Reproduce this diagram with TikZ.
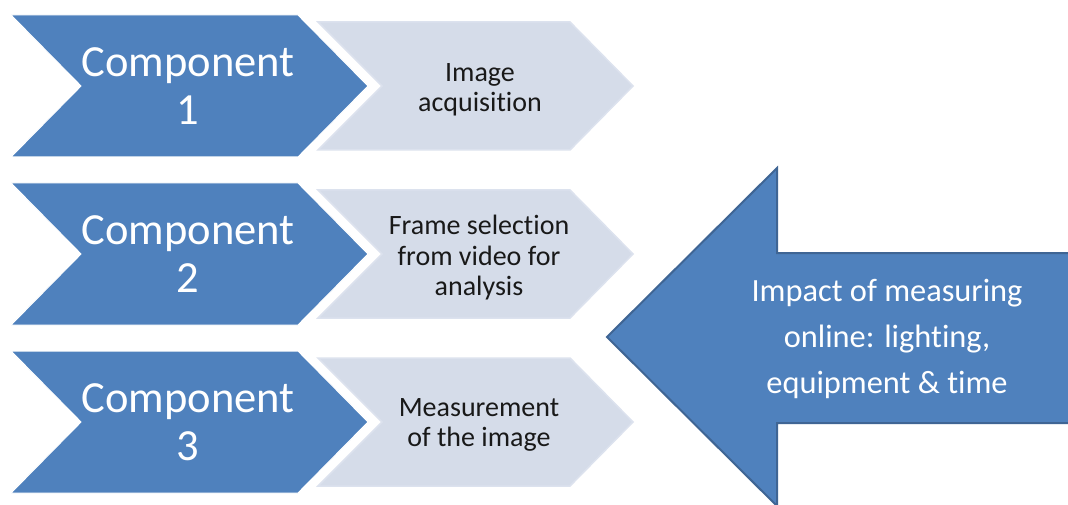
\documentclass[tikz,border=0pt]{standalone}
\usepackage{fontspec}
\setmainfont[Ligatures=NoCommon]{Carlito}
\definecolor{darkblue}{HTML}{4F81BD}
\definecolor{lightblue}{HTML}{D5DCE9}
\definecolor{lightedge}{HTML}{DCE2EE}
\definecolor{arrowedge}{HTML}{3F6594}
\tikzset{
  darkchev/.style={fill=darkblue, draw=white, line width=1pt, line join=miter},
  lightchev/.style={fill=lightblue, draw=lightedge, line width=1.5pt},
  comptext/.style={text=white, align=center, inner sep=0pt, font=\fontsize{44.5}{48}\selectfont},
  desctext/.style={text=black!90, align=center, inner sep=0pt, font=\fontsize{28}{30.5}\selectfont},
  bigarrow/.style={fill=darkblue, draw=arrowedge, line width=2pt, line join=miter},
  arrowtext/.style={text=white, align=center, inner sep=0pt, font=\fontsize{32.4}{46}\selectfont}
}
\begin{document}
\begin{tikzpicture}[x=1pt,y=-1pt]
\useasboundingbox (0,0) rectangle (1068,505);
\fill[white] (0,0) rectangle (1068,505);
\foreach \cy/\n in {86/1,254/2,422/3}{
  \draw[darkchev] (11,\cy-71) -- (298,\cy-71) -- (368,\cy) -- (298,\cy+71) -- (11,\cy+71) -- (81,\cy) -- cycle;
  \draw[lightchev] (318,\cy-64) -- (570,\cy-64) -- (633,\cy) -- (570,\cy+64) -- (318,\cy+64) -- (382,\cy) -- cycle;
  \node[comptext] (comp\n) at (188,\cy) {Component\\\n};
}
\node[desctext] (desc1) at (480,90) {Image\\acquisition};
\node[desctext] (desc2) at (479,258) {Frame selection\\from video for\\analysis};
\node[desctext] (desc3) at (479,425) {Measurement\\of the image};
\draw[bigarrow] (607,337) -- (777,168) -- (777,253) -- (1070,253) -- (1070,423) -- (777,423) -- (777,506) -- cycle;
\node[arrowtext] (impact) at (887,339) {Impact of measuring\\online: lighting,\\equipment \& time};
\end{tikzpicture}
\end{document}
